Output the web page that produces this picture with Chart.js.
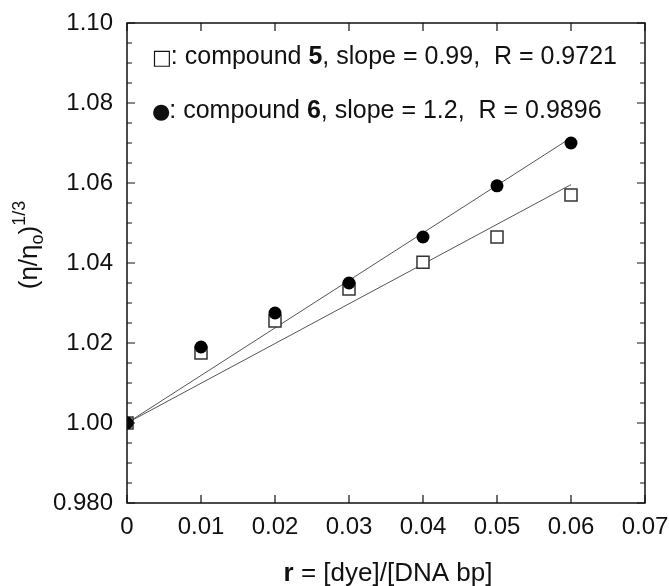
<!DOCTYPE html>
<html lang="en">
<head>
    <meta charset="UTF-8">
    <title>Viscosity vs r</title>
    <script src="https://cdn.jsdelivr.net/npm/chart.js"></script>
    <style>
        body {
            margin: 0;
            padding: 0;
            background: #ffffff;
        }
        #wrap {
            width: 669px;
            height: 586px;
            position: relative;
        }
    </style>
</head>
<body>
    <div id="wrap">
        <canvas id="chart" width="669" height="586"></canvas>
    </div>
    <script>
        // data
        const rValues = [0, 0.01, 0.02, 0.03, 0.04, 0.05, 0.06];
        const compound5 = [1.000, 1.0175, 1.0255, 1.0335, 1.0402, 1.0465, 1.0570];
        const compound6 = [1.000, 1.0190, 1.0275, 1.0350, 1.0465, 1.0593, 1.0700];
        const fitX = [0, 0.06];
        const fit5 = [1.000, 1.0596];
        const fit6 = [1.000, 1.0713];

        const xTicks = [0, 0.01, 0.02, 0.03, 0.04, 0.05, 0.06, 0.07];
        const xTickLabels = ['0', '0.01', '0.02', '0.03', '0.04', '0.05', '0.06', '0.07'];
        const yTicks = [0.98, 1.00, 1.02, 1.04, 1.06, 1.08, 1.10];
        const yTickLabels = ['0.980', '1.00', '1.02', '1.04', '1.06', '1.08', '1.10'];
        const yMinorStep = 0.005;

        const legendLines = [
            { sym: '\u25A1', pre: ': compound ', bold: '5', post: ', slope = 0.99,  R = 0.9721' },
            { sym: '\u25CF', pre: ': compound ', bold: '6', post: ', slope = 1.2,  R = 0.9896' }
        ];

        const FONT = '"Liberation Sans", Arial, Helvetica, sans-serif';
        const ink = '#111111';

        function pts(xs, ys) {
            return xs.map((x, i) => ({ x: x, y: ys[i] }));
        }

        // frame, inward ticks, legend text and axis titles
        const decorations = {
            id: 'decorations',
            afterDraw(chart) {
                const ctx = chart.ctx;
                const a = chart.chartArea;
                const xs = chart.scales.x;
                const ys = chart.scales.y;
                ctx.save();
                ctx.strokeStyle = ink;
                ctx.lineWidth = 1.5;
                ctx.strokeRect(a.left, a.top, a.right - a.left, a.bottom - a.top);

                ctx.lineWidth = 1.2;
                ctx.beginPath();
                xTicks.forEach(v => {
                    const px = xs.getPixelForValue(v);
                    ctx.moveTo(px, a.bottom); ctx.lineTo(px, a.bottom - 8);
                    ctx.moveTo(px, a.top); ctx.lineTo(px, a.top + 8);
                });
                const n = Math.round((ys.max - ys.min) / yMinorStep);
                for (let i = 0; i <= n; i++) {
                    const v = ys.min + i * yMinorStep;
                    const py = ys.getPixelForValue(v);
                    const len = i % 4 === 0 ? 8 : 5;
                    ctx.moveTo(a.left, py); ctx.lineTo(a.left + len, py);
                    ctx.moveTo(a.right, py); ctx.lineTo(a.right - len, py);
                }
                ctx.stroke();

                // legend inside plot
                ctx.fillStyle = ink;
                ctx.textBaseline = 'alphabetic';
                ctx.textAlign = 'left';
                const lx = a.left + 25;
                const lineY = [a.top + 41, a.top + 95];
                legendLines.forEach((l, i) => {
                    let x = lx;
                    ctx.font = '21px "DejaVu Sans", sans-serif';
                    ctx.fillText(l.sym, x, lineY[i]);
                    x += ctx.measureText(l.sym).width - 1;
                    ctx.font = '25px ' + FONT;
                    ctx.fillText(l.pre, x, lineY[i]);
                    x += ctx.measureText(l.pre).width;
                    ctx.font = 'bold 25px ' + FONT;
                    ctx.fillText(l.bold, x, lineY[i]);
                    x += ctx.measureText(l.bold).width;
                    ctx.font = '25px ' + FONT;
                    ctx.fillText(l.post, x, lineY[i]);
                });

                // x axis title
                const cx = (a.left + a.right) / 2 + 2;
                ctx.font = 'bold 26px ' + FONT;
                const rW = ctx.measureText('r').width;
                ctx.font = '26px ' + FONT;
                const rest = ' = [dye]/[DNA bp]';
                const restW = ctx.measureText(rest).width;
                let tx = cx - (rW + restW) / 2;
                ctx.font = 'bold 26px ' + FONT;
                ctx.fillText('r', tx, 581);
                ctx.font = '26px ' + FONT;
                ctx.fillText(rest, tx + rW, 581);

                // y axis title, rotated
                ctx.translate(37, (a.top + a.bottom) / 2 - 18);
                ctx.rotate(-Math.PI / 2);
                const parts = [
                    { t: '(\u03B7/\u03B7', f: '26px ' + FONT, dy: 0 },
                    { t: 'o', f: '18px ' + FONT, dy: 6 },
                    { t: ')', f: '26px ' + FONT, dy: 0 },
                    { t: '1/3', f: '18px ' + FONT, dy: -12 }
                ];
                let total = 0;
                parts.forEach(p => { ctx.font = p.f; total += ctx.measureText(p.t).width; });
                let px = -total / 2;
                parts.forEach(p => {
                    ctx.font = p.f;
                    ctx.fillText(p.t, px, p.dy);
                    px += ctx.measureText(p.t).width;
                });
                ctx.restore();
            }
        };

        const ctx = document.getElementById('chart').getContext('2d');
        const chartInstance = new Chart(ctx, {
            type: 'scatter',
            data: {
                datasets: [
                    {
                        label: 'fit 5',
                        type: 'line',
                        data: pts(fitX, fit5),
                        borderColor: '#555555',
                        borderWidth: 1,
                        pointRadius: 0,
                        fill: false,
                        order: 3
                    },
                    {
                        label: 'fit 6',
                        type: 'line',
                        data: pts(fitX, fit6),
                        borderColor: '#555555',
                        borderWidth: 1,
                        pointRadius: 0,
                        fill: false,
                        order: 3
                    },
                    {
                        label: 'compound 5',
                        data: pts(rValues, compound5),
                        pointStyle: 'rect',
                        pointRadius: 8.5,
                        pointBackgroundColor: '#ffffff',
                        pointBorderColor: '#333333',
                        pointBorderWidth: 1.5,
                        order: 2
                    },
                    {
                        label: 'compound 6',
                        data: pts(rValues, compound6),
                        pointStyle: 'circle',
                        pointRadius: 6.5,
                        pointBackgroundColor: '#000000',
                        pointBorderColor: '#000000',
                        pointBorderWidth: 0,
                        order: 1
                    }
                ]
            },
            options: {
                responsive: false,
                animation: false,
                layout: { padding: { top: 23, right: 24, left: 0, bottom: 0 } },
                plugins: {
                    legend: { display: false },
                    tooltip: { enabled: false }
                },
                scales: {
                    x: {
                        type: 'linear',
                        min: 0,
                        max: 0.07,
                        afterFit(scale) {
                            scale.height = 83;
                            scale.paddingLeft = 0;
                            scale.paddingRight = 0;
                        },
                        afterBuildTicks(scale) { scale.ticks = xTicks.map(v => ({ value: v })); },
                        grid: { display: false, drawTicks: false },
                        border: { display: false },
                        ticks: {
                            padding: 10,
                            color: ink,
                            font: { family: FONT, size: 24 },
                            maxRotation: 0,
                            autoSkip: false,
                            callback: (v) => xTickLabels[xTicks.findIndex(t => Math.abs(t - v) < 1e-9)]
                        }
                    },
                    y: {
                        type: 'linear',
                        min: 0.98,
                        max: 1.10,
                        afterFit(scale) {
                            scale.width = 127;
                            scale.paddingTop = 0;
                            scale.paddingBottom = 0;
                        },
                        afterBuildTicks(scale) { scale.ticks = yTicks.map(v => ({ value: v })); },
                        grid: { display: false, drawTicks: false },
                        border: { display: false },
                        ticks: {
                            padding: 14,
                            color: ink,
                            font: { family: FONT, size: 24 },
                            autoSkip: false,
                            callback: (v) => yTickLabels[yTicks.findIndex(t => Math.abs(t - v) < 1e-9)]
                        }
                    }
                }
            },
            plugins: [decorations]
        });
    </script>
</body>
</html>
